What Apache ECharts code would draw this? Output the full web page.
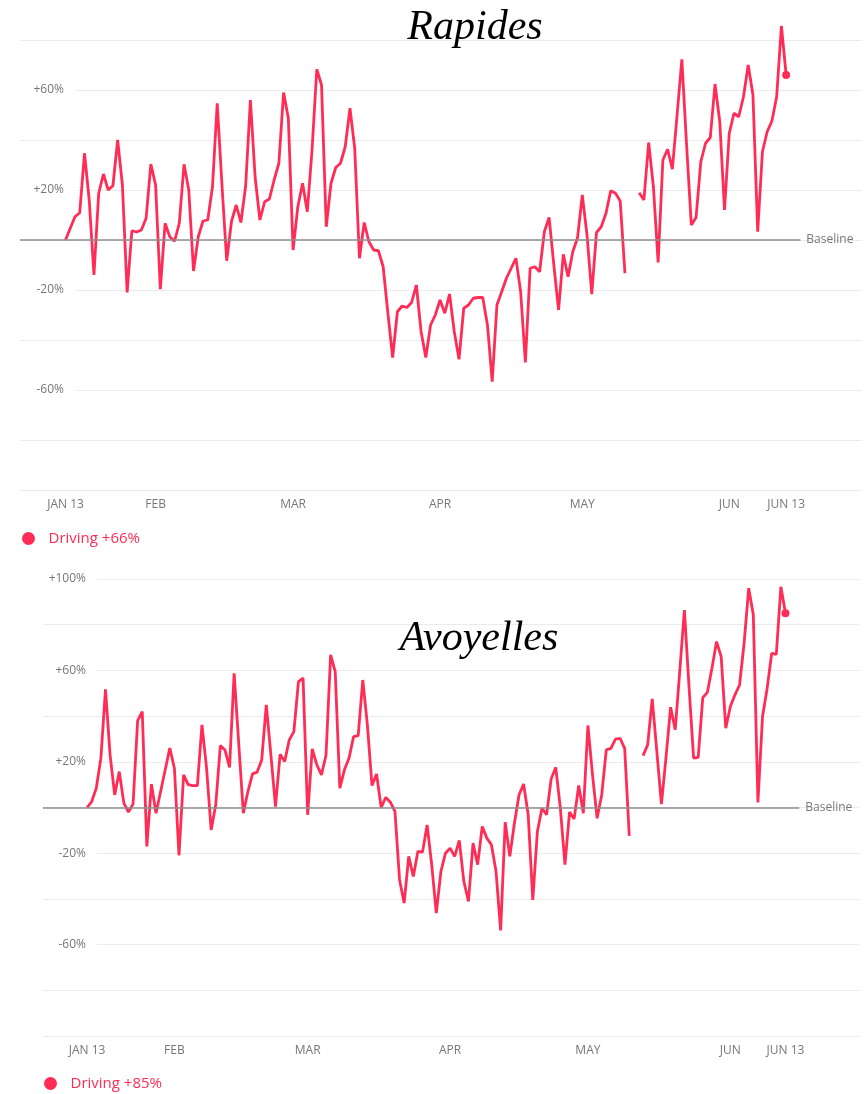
<!DOCTYPE html>
<html>
<head>
<meta charset="utf-8">
<title>Driving - Rapides / Avoyelles</title>
<script src="https://cdn.jsdelivr.net/npm/echarts@6/dist/echarts.min.js"></script>
<style>
    html, body { margin: 0; padding: 0; background: #fff; }
    #chart { width: 864px; height: 1094px; }
</style>
</head>
<body>
<div id="chart"></div>
<script>
// days counted from JAN 13 (day 0) to JUN 13 (day 152), null = no data
var tickDays = [0, 19, 48, 79, 109, 140, 152];
var tickLabels = ['JAN 13', 'FEB', 'MAR', 'APR', 'MAY', 'JUN', 'JUN 13'];

var rapidesTicks = [60, 20, -20, -60];
var avoyellesTicks = [100, 60, 20, -20, -60];

var rapides = [
    0, 4.7, 9.3, 10.9, 34.7, 16, -14, 18.7, 26.4, 20,
    21.7, 40, 22, -21, 3.7, 3.2, 4, 8.7, 30.4, 22,
    -19.7, 6.7, 1.3, -0.5, 6.7, 30.3, 20, -12.4, 1.3, 7.6,
    8, 21.3, 54.7, 22, -8.3, 7.3, 14, 7, 21.7, 56,
    25, 8, 15.3, 16.4, 24, 30.7, 59, 48.7, -4, 13.3,
    22.7, 11.3, 36, 68.3, 62, 5.3, 22.7, 29, 30.7, 37.3,
    52.7, 36.7, -7.3, 7, -0.7, -4, -4.3, -10.7, -29.3, -47,
    -28.7, -26.4, -27, -25, -18, -36.7, -47, -34, -30, -24,
    -29.3, -21.6, -36.7, -47.7, -27.3, -26, -23.3, -23, -23, -34,
    -56.7, -26, -20.7, -15.3, -11.3, -7.3, -20.7, -49, -11.3, -10.7,
    -12.7, 3.3, 9, -10, -28, -5.7, -14.7, -4.7, 0.9, 18,
    2, -21.7, 3, 5.3, 10.7, 19.7, 18.7, 15.6, -13.3, null,
    null, 18.9, 16, 39, 21.3, -9, 32, 36.3, 28.3, 50,
    72.3, 38, 6, 9, 31.3, 38.7, 41, 62.4, 47.3, 12,
    42.7, 50.7, 49.3, 57.3, 70, 58, 3.3, 35.3, 43.3, 47.6,
    57.3, 85.6, 66
];

var avoyelles = [
    0, 2.6, 8.5, 21.6, 51.7, 23, 5.5, 15.7, 1.9, -2,
    1.5, 38, 42, -17, 10.2, -2.5, 7, 16.5, 26, 17.2,
    -21, 14.3, 10, 9.6, 9.6, 36.2, 17.2, -9.8, 1.2, 27.1,
    25.2, 17.5, 58.7, 28, -2.5, 7, 14.7, 15.5, 20.8, 44.9,
    23, 0.4, 23.3, 20.1, 29.6, 33.2, 55.1, 56.6, -3.2, 25.7,
    18.7, 14.3, 23, 66.8, 59.5, 8.5, 16.5, 21.6, 31, 31.5,
    55.8, 36.2, 9.6, 14.7, 0, 4.4, 2.3, -1.7, -31.6, -41.8,
    -21.4, -30.2, -19.2, -19.5, -7.6, -25, -46.2, -28, -20, -17.8,
    -21.4, -14.4, -32.4, -41.1, -15.6, -25, -8.3, -13.4, -16.3, -28,
    -53.8, -6.4, -21.4, -6.9, 5.5, 10.3, -3.2, -40.4, -10.5, -0.3,
    -3.2, 12.5, 17.6, -0.3, -25, -2, -5, 9.6, -2.5, 35.9,
    14.3, -4.7, 5.5, 25.2, 25.9, 29.9, 30.3, 25.9, -12.4, null,
    null, 22.7, 27.4, 47.5, 24.5, 1.5, 22, 43.9, 34, 60,
    86.4, 53, 21.6, 21.9, 48.1, 50.4, 61, 72.6, 66, 34.7,
    44.2, 49.3, 53.6, 72, 96, 84.3, 2.2, 39.8, 52, 67.5,
    67, 96.6, 85
];

var RED = '#ff2d55';
var FONT = '"Open Sans", "Noto Sans", sans-serif';
var X_MIN = -9.6, X_MAX = 168, BASE_END = 155;

function toPoints(arr) {
    return arr.map(function (v, i) { return [i, v]; });
}

function pct(v) {
    return (v > 0 ? '+' : '') + v + '%';
}

function lastValue(arr) {
    return arr[arr.length - 1];
}

function xAxisFor(gridIndex, margin) {
    return {
        type: 'value', gridIndex: gridIndex, min: X_MIN, max: X_MAX,
        axisLine: { show: false }, axisTick: { show: false }, splitLine: { show: false },
        axisLabel: {
            customValues: tickDays,
            margin: margin,
            color: '#777', fontSize: 12, fontFamily: FONT,
            formatter: function (v) {
                var k = tickDays.indexOf(v);
                return k < 0 ? '' : tickLabels[k];
            }
        }
    };
}

function yAxisFor(gridIndex, max, shown, margin, boxWidth, padRight) {
    return {
        type: 'value', gridIndex: gridIndex, min: -100, max: max, interval: 20,
        axisLine: { show: false }, axisTick: { show: false },
        splitLine: { lineStyle: { color: '#ebebeb', width: 1 } },
        axisLabel: {
            inside: true, align: 'right', margin: margin,
            formatter: function (v) {
                return shown.indexOf(v) < 0 ? '' : '{a|' + pct(v) + '}';
            },
            rich: {
                a: {
                    color: '#777', fontSize: 12, fontFamily: FONT,
                    backgroundColor: '#fff', width: boxWidth, align: 'right',
                    padding: [3, padRight, 3, 0]
                }
            }
        }
    };
}

function seriesFor(name, arr, idx) {
    var last = arr.length - 1;
    return {
        name: name, type: 'line', xAxisIndex: idx, yAxisIndex: idx,
        data: toPoints(arr),
        connectNulls: false, clip: false, smooth: false,
        symbol: 'circle', showAllSymbol: true,
        symbolSize: function (v, p) { return p.dataIndex === last ? 8 : 0; },
        lineStyle: { color: RED, width: 2.8 },
        itemStyle: { color: RED },
        emphasis: { disabled: true },
        markLine: {
            silent: true, symbol: ['none', 'none'],
            lineStyle: { color: '#8e8e8e', width: 1.5, type: 'solid' },
            label: { show: true, position: 'end', formatter: 'Baseline', distance: 6,
                     color: '#777', fontSize: 12, fontFamily: FONT },
            data: [[{ coord: [X_MIN, 0] }, { coord: [BASE_END, 0] }]]
        }
    };
}

function legendFor(name, arr, left, top) {
    return {
        data: [name], left: left, top: top, padding: 0,
        icon: 'circle', itemWidth: 30, itemHeight: 13,
        selectedMode: false,
        textStyle: { color: RED, fontSize: 15, fontFamily: FONT },
        formatter: function () { return 'Driving ' + pct(lastValue(arr)); }
    };
}

var chart = echarts.init(document.getElementById('chart'), null, { renderer: 'canvas' });

chart.setOption({
    animation: false,
    backgroundColor: '#fff',
    grid: [
        { left: 20, right: 2, top: 40, height: 450 },
        { left: 43, right: 5, top: 579, height: 457 }
    ],
    xAxis: [xAxisFor(0, 9), xAxisFor(1, 9)],
    yAxis: [
        yAxisFor(0, 80, rapidesTicks, 57, 44, 13),
        yAxisFor(1, 100, avoyellesTicks, 54, 43, 11)
    ],
    legend: [
        legendFor('Rapides', rapides, 22, 531),
        legendFor('Avoyelles', avoyelles, 44, 1076)
    ],
    series: [
        seriesFor('Rapides', rapides, 0),
        seriesFor('Avoyelles', avoyelles, 1)
    ],
    graphic: [
        {
            type: 'text', x: 475, y: 28, z: 10,
            style: { text: 'Rapides', fill: '#000', textAlign: 'center', textVerticalAlign: 'middle',
                     font: 'italic 42px "Liberation Serif", "DejaVu Serif", serif' }
        },
        {
            type: 'text', x: 479, y: 639, z: 10,
            style: { text: 'Avoyelles', fill: '#000', textAlign: 'center', textVerticalAlign: 'middle',
                     font: 'italic 42px "Liberation Serif", "DejaVu Serif", serif' }
        }
    ]
});
</script>
</body>
</html>
